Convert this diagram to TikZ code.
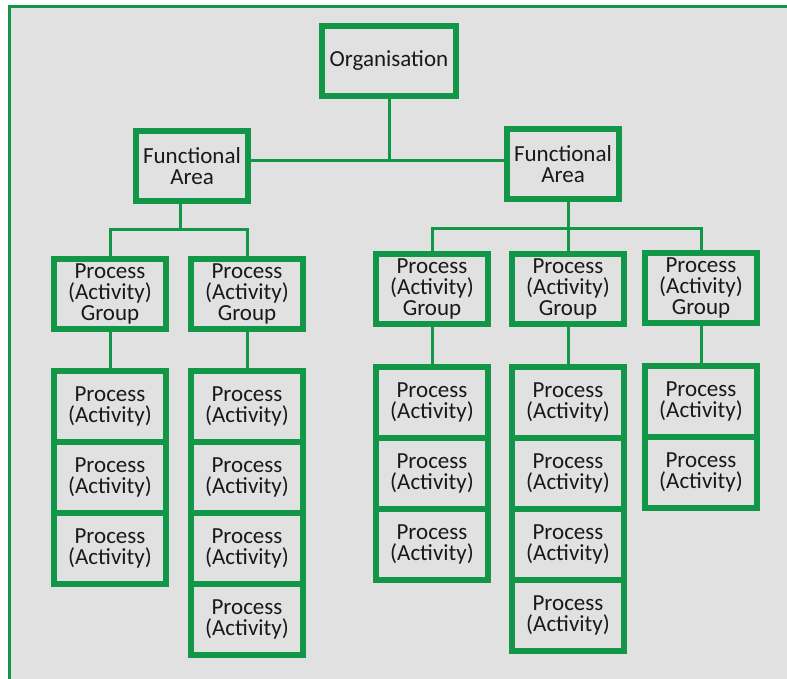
\documentclass[tikz,border=0pt]{standalone}
\usepackage{fontspec}
\setmainfont{Carlito}
\definecolor{boxgreen}{RGB}{18,150,72}
\definecolor{panelgrey}{RGB}{225,225,225}

\begin{document}
\begin{tikzpicture}[x=1pt,y=-1pt,
   unit/.style={draw=boxgreen,line width=6pt,fill=panelgrey,inner sep=0pt,align=center,
      text=black!90,font=\fontsize{23}{21}\selectfont,minimum width=112pt,minimum height=70pt},
   activity/.style={unit,minimum height=71pt},
   link/.style={draw=boxgreen,line width=3pt}
]
\useasboundingbox (0,0) rectangle (787,679);
\fill[panelgrey] (9,7) rectangle (787,679);
\draw[boxgreen,line width=3pt] (9.5,679) -- (9.5,7) -- (787,7);

% top levels
\node[unit,minimum width=134pt] (org) at (389,61) {Organisation};
\node[unit] (fa1) at (192,166) {Functional\\Area};
\node[unit] (fa2) at (563,164) {Functional\\Area};

% groups
\foreach \Nr/\X/\Y in {1/110/294,2/247/294,3/432/289,4/568/289,5/701/288}
  \node[unit] (g\Nr) at (\X,\Y) {Process\\(Activity)\\Group};

% activity stacks
\foreach \Nr/\X/\Y/\N in {1/110/406/3,2/247/406/4,3/432/402/3,4/568/402/4,5/701/401/2}
  \foreach \i in {1,...,\N}
    \node[activity] (p\Nr-\i) at ({\X},{\Y+71*(\i-1)}) {Process\\(Activity)};

% connectors
\draw[link] ([yshift=5pt]fa1.east) -- ([yshift=3pt]fa2.west) coordinate (mid);
\draw[link] (org.south) -- (org.south |- mid);
\draw[link] ([xshift=-12pt]fa1.south) -- ++(0,26) coordinate (bus1);
\draw[link] (g1.north) |- (bus1) -| (g2.north);
\draw[link] ([xshift=5pt]fa2.south) -- ++(0,27) coordinate (bus2) -- (g4.north);
\draw[link] (g3.north) |- (bus2) -| (g5.north);
\foreach \Nr in {1,...,5}
  \draw[link] (g\Nr.south) -- (p\Nr-1.north);
\end{tikzpicture}
\end{document}
